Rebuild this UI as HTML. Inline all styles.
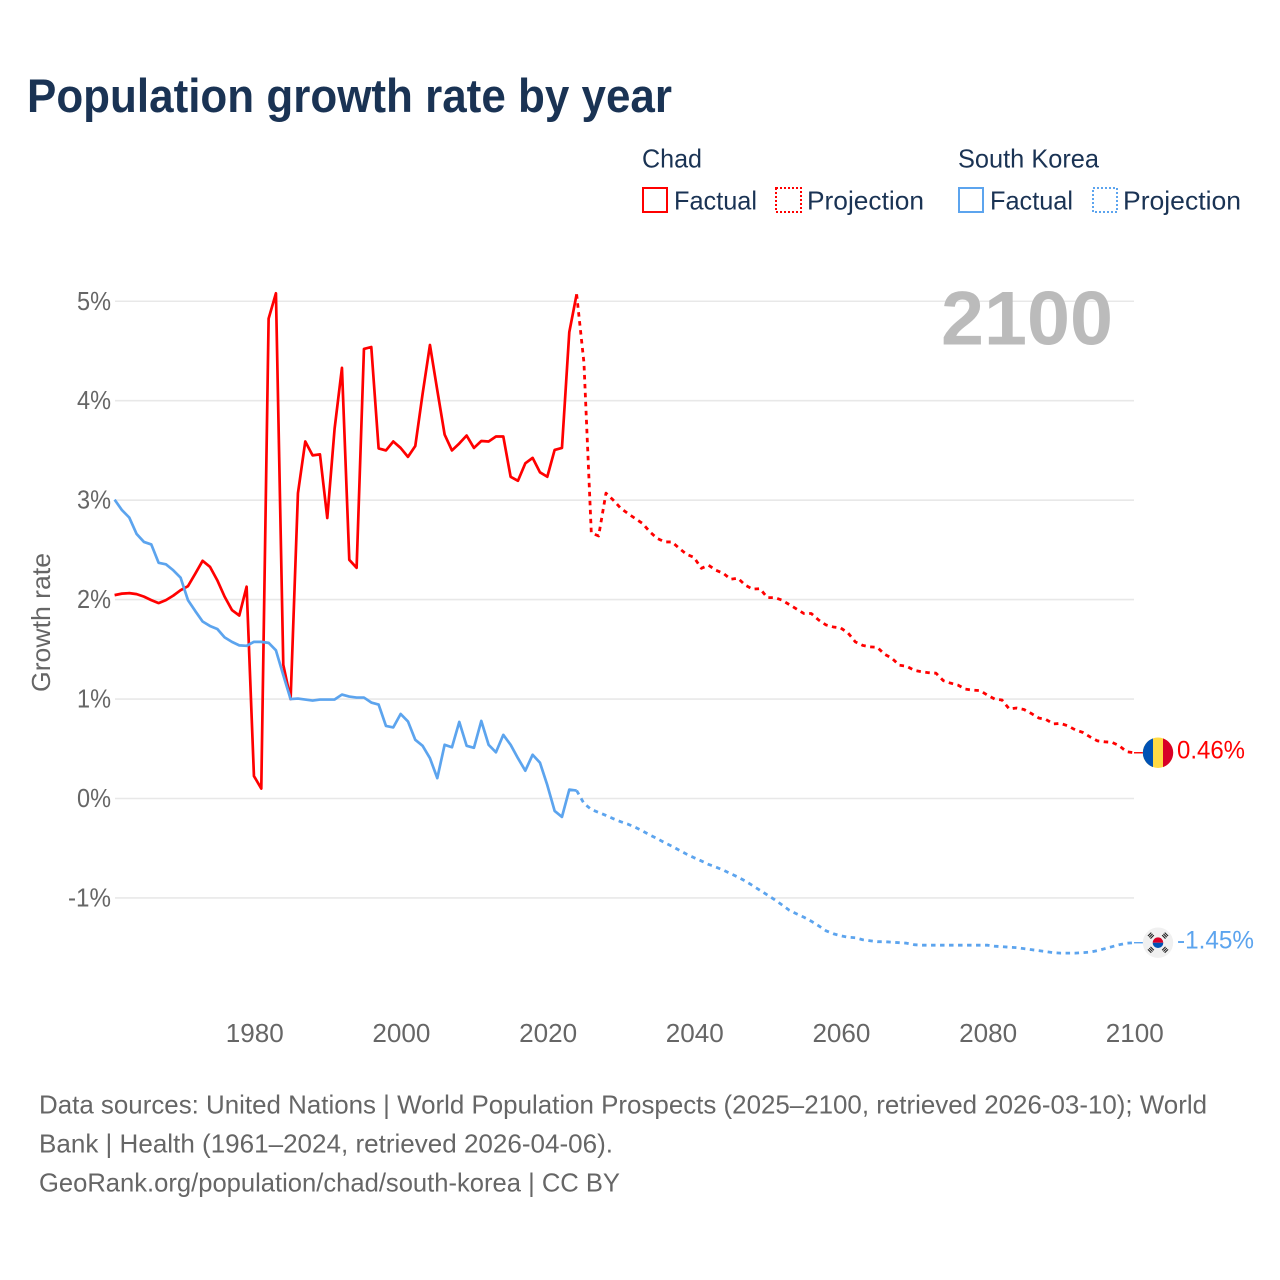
<!DOCTYPE html>
<html lang="en">
<head>
<meta charset="utf-8">
<title>Population growth rate by year</title>
<style>
  html, body { margin: 0; padding: 0; background: #ffffff; }
  svg { display: block; font-family: "Liberation Sans", "DejaVu Sans", sans-serif; }
</style>
</head>
<body>
<svg id="chart" xmlns="http://www.w3.org/2000/svg" width="1280" height="1280" viewBox="0 0 1280 1280">
  <rect x="0" y="0" width="1280" height="1280" fill="#ffffff"/>
  <text x="27" y="112" font-size="47" font-weight="700" fill="#1a3354" textLength="645" lengthAdjust="spacingAndGlyphs">Population growth rate by year</text>

  <g font-size="26" fill="#1a3354">
    <text x="642" y="167.5" textLength="60" lengthAdjust="spacingAndGlyphs">Chad</text>
    <text x="958" y="167.5" textLength="141" lengthAdjust="spacingAndGlyphs">South Korea</text>
    <rect x="643" y="188" width="24" height="24" fill="none" stroke="#ff0000" stroke-width="2"/>
    <text x="674" y="209.5" textLength="83" lengthAdjust="spacingAndGlyphs">Factual</text>
    <rect x="776" y="188" width="25" height="24" fill="none" stroke="#ff0000" stroke-width="2" stroke-dasharray="2 2"/>
    <text x="807" y="209.5" textLength="117" lengthAdjust="spacingAndGlyphs">Projection</text>
    <rect x="959" y="188" width="24" height="24" fill="none" stroke="#5ca4ee" stroke-width="2"/>
    <text x="990" y="209.5" textLength="83" lengthAdjust="spacingAndGlyphs">Factual</text>
    <rect x="1093" y="188" width="24" height="24" fill="none" stroke="#5ca4ee" stroke-width="2" stroke-dasharray="2 2"/>
    <text x="1123" y="209.5" textLength="118" lengthAdjust="spacingAndGlyphs">Projection</text>
  </g>

  <g id="grid"></g>
  <g id="y-ticks"></g>
  <g id="x-ticks"></g>
  <text transform="translate(50 622.5) rotate(-90)" text-anchor="middle" font-size="26" fill="#666666" textLength="139" lengthAdjust="spacingAndGlyphs">Growth rate</text>
  <text x="941" y="344.5" font-size="76" font-weight="700" fill="#bbbbbb" textLength="172" lengthAdjust="spacingAndGlyphs">2100</text>
  <g id="series"></g>
  <g id="ends"></g>

  <g font-size="26" fill="#666666">
    <text x="39" y="1113.5" textLength="1168" lengthAdjust="spacingAndGlyphs">Data sources: United Nations | World Population Prospects (2025–2100, retrieved 2026-03-10); World</text>
    <text x="39" y="1152.5" textLength="574" lengthAdjust="spacingAndGlyphs">Bank | Health (1961–2024, retrieved 2026-04-06).</text>
    <text x="39" y="1191.5" textLength="581" lengthAdjust="spacingAndGlyphs">GeoRank.org/population/chad/south-korea | CC BY</text>
  </g>
</svg>
<script>
const yTickValues = [5, 4, 3, 2, 1, 0, -1];
const yTickLabels = ["5%", "4%", "3%", "2%", "1%", "0%", "-1%"];
const xTickYears = [1980, 2000, 2020, 2040, 2060, 2080, 2100];
const factualStartYear = 1961;
const projectionStartYear = 2024;

const chadFactual = [2.045,2.06,2.065,2.055,2.03,1.995,1.965,1.995,2.04,2.095,2.135,2.26,2.39,2.33,2.195,2.03,1.895,1.84,2.13,0.226,0.10,4.825,5.08,1.345,1.0,3.07,3.59,3.45,3.46,2.82,3.72,4.33,2.40,2.32,4.52,4.54,3.52,3.50,3.59,3.525,3.435,3.545,4.07,4.56,4.105,3.66,3.50,3.57,3.65,3.525,3.595,3.59,3.64,3.64,3.235,3.195,3.37,3.425,3.28,3.235,3.505,3.525,4.69,5.07];
const chadProjection = [5.07,4.38,2.67,2.64,3.07,3.0,2.92,2.865,2.815,2.765,2.68,2.615,2.58,2.58,2.515,2.455,2.425,2.315,2.345,2.295,2.265,2.205,2.215,2.145,2.105,2.11,2.02,2.02,1.995,1.95,1.905,1.86,1.86,1.795,1.745,1.725,1.715,1.665,1.575,1.54,1.525,1.52,1.45,1.41,1.34,1.33,1.29,1.275,1.265,1.26,1.185,1.16,1.14,1.10,1.09,1.085,1.04,1.00,0.99,0.90,0.91,0.895,0.855,0.81,0.795,0.75,0.755,0.73,0.69,0.665,0.62,0.58,0.57,0.565,0.53,0.47,0.46];
const koreaFactual = [3.005,2.90,2.825,2.66,2.58,2.555,2.37,2.355,2.295,2.22,1.995,1.885,1.78,1.735,1.705,1.62,1.575,1.54,1.535,1.575,1.575,1.565,1.49,1.24,1.0,1.005,0.995,0.985,0.995,0.995,0.995,1.045,1.025,1.015,1.015,0.965,0.945,0.73,0.715,0.85,0.775,0.59,0.53,0.405,0.205,0.54,0.515,0.77,0.53,0.51,0.78,0.54,0.465,0.64,0.54,0.405,0.28,0.44,0.36,0.135,-0.125,-0.185,0.09,0.08];
const koreaProjection = [0.08,-0.05,-0.11,-0.14,-0.17,-0.203,-0.233,-0.258,-0.29,-0.327,-0.367,-0.404,-0.444,-0.48,-0.52,-0.56,-0.595,-0.628,-0.663,-0.69,-0.72,-0.756,-0.79,-0.83,-0.876,-0.923,-0.97,-1.017,-1.07,-1.124,-1.16,-1.194,-1.234,-1.28,-1.33,-1.36,-1.38,-1.395,-1.40,-1.42,-1.43,-1.44,-1.44,-1.445,-1.45,-1.455,-1.47,-1.475,-1.475,-1.475,-1.475,-1.475,-1.475,-1.475,-1.475,-1.475,-1.475,-1.485,-1.49,-1.495,-1.50,-1.51,-1.52,-1.53,-1.54,-1.55,-1.555,-1.555,-1.555,-1.55,-1.545,-1.53,-1.51,-1.49,-1.47,-1.455,-1.45];

const SVGNS = "http://www.w3.org/2000/svg";
const xScale = function (year) { return 114.6 + (year - 1961) * (1134 - 114.6) / 139; };
const yScale = function (value) { return 798.5 - value * 99.45; };

function make(tag, attrs, parent) {
  const el = document.createElementNS(SVGNS, tag);
  Object.keys(attrs).forEach(function (k) { el.setAttribute(k, attrs[k]); });
  parent.appendChild(el);
  return el;
}

function linePath(values, startYear) {
  return values.map(function (v, i) {
    return (i === 0 ? "M" : "L") + xScale(startYear + i).toFixed(2) + " " + yScale(v).toFixed(2);
  }).join(" ");
}

const gridGroup = document.getElementById("grid");
const yTickGroup = document.getElementById("y-ticks");
yTickValues.forEach(function (v, i) {
  const line = make("line", { x1: 115, x2: 1134, y1: yScale(v), y2: yScale(v), stroke: "#e8e8e8", "stroke-width": 1.6 }, gridGroup);
  
  
  const label = make("text", { x: 111, y: yScale(v) + 8.5, "text-anchor": "end", "font-size": 26, fill: "#666666", textLength: 17 * yTickLabels[i].length - (yTickLabels[i].length > 2 ? 8 : 0), lengthAdjust: "spacingAndGlyphs" }, yTickGroup);
  
  
  label.textContent = yTickLabels[i];
});

const xTickGroup = document.getElementById("x-ticks");
xTickYears.forEach(function (year) {
  const label = make("text", { x: xScale(year) + 0.8, y: 1042, "text-anchor": "middle", "font-size": 26, fill: "#666666", textLength: 58, lengthAdjust: "spacingAndGlyphs" }, xTickGroup);
  
  
  label.textContent = String(year);
});

const seriesGroup = document.getElementById("series");
const dash = "4.5 4.5";

const chadProjectionLine = make("path", { d: linePath(chadProjection, projectionStartYear), fill: "none", stroke: "#ff0000", "stroke-width": 2.8, "stroke-dasharray": dash, "stroke-linejoin": "round" }, seriesGroup);



const koreaProjectionLine = make("path", { d: linePath(koreaProjection, projectionStartYear), fill: "none", stroke: "#5ca4ee", "stroke-width": 2.8, "stroke-dasharray": dash, "stroke-linejoin": "round" }, seriesGroup);



const chadFactualLine = make("path", { d: linePath(chadFactual, factualStartYear), fill: "none", stroke: "#ff0000", "stroke-width": 2.7, "stroke-linejoin": "round" }, seriesGroup);



const koreaFactualLine = make("path", { d: linePath(koreaFactual, factualStartYear), fill: "none", stroke: "#5ca4ee", "stroke-width": 2.7, "stroke-linejoin": "round" }, seriesGroup);



const endsGroup = document.getElementById("ends");
const chadLast = chadProjection[chadProjection.length - 1];
const koreaLast = koreaProjection[koreaProjection.length - 1];

const chadStub = make("line", { x1: 1134, x2: 1143, y1: yScale(chadLast), y2: yScale(chadLast), stroke: "#ff0000", "stroke-width": 1.4 }, endsGroup);



const koreaStub = make("line", { x1: 1134, x2: 1143, y1: yScale(koreaLast), y2: yScale(koreaLast), stroke: "#5ca4ee", "stroke-width": 1.4 }, endsGroup);



const chadFlag = make("g", { transform: "translate(1158 " + yScale(chadLast) + ")" }, endsGroup);


make("circle", { r: 15.2, fill: "#ffda44" }, chadFlag);
make("path", { d: "M-5 -14.35 A15.2 15.2 0 0 0 -5 14.35 Z", fill: "#0052b4" }, chadFlag);
make("path", { d: "M5 -14.35 A15.2 15.2 0 0 1 5 14.35 Z", fill: "#d80027" }, chadFlag);

const koreaFlag = make("g", { transform: "translate(1158 " + yScale(koreaLast) + ")" }, endsGroup);


make("circle", { r: 15.2, fill: "#f0f0f0" }, koreaFlag);
make("path", { d: "M-5.3 0 A5.3 5.3 0 0 1 5.3 0 Z", fill: "#d80027" }, koreaFlag);
make("path", { d: "M-5.3 0 A5.3 5.3 0 0 0 5.3 0 Z", fill: "#0052b4" }, koreaFlag);
[45, 135, 225, 315].forEach(function (angle) {
  [-1.8, 0, 1.8].forEach(function (offset) {
    make("rect", { x: -2.4, y: -10.6 + offset, width: 4.8, height: 1.1, fill: "#222222", transform: "rotate(" + angle + ")" }, koreaFlag);
  });
});

const chadValueLabel = make("text", { x: 1177, y: yScale(chadLast) + 5.5, "font-size": 25, fill: "#ff0000", textLength: 68, lengthAdjust: "spacingAndGlyphs" }, endsGroup);


chadValueLabel.textContent = chadLast.toFixed(2) + "%";

const koreaValueLabel = make("text", { x: 1177, y: yScale(koreaLast) + 6, "font-size": 25, fill: "#5ca4ee", textLength: 77, lengthAdjust: "spacingAndGlyphs" }, endsGroup);


koreaValueLabel.textContent = koreaLast.toFixed(2) + "%";
</script>
</body>
</html>
